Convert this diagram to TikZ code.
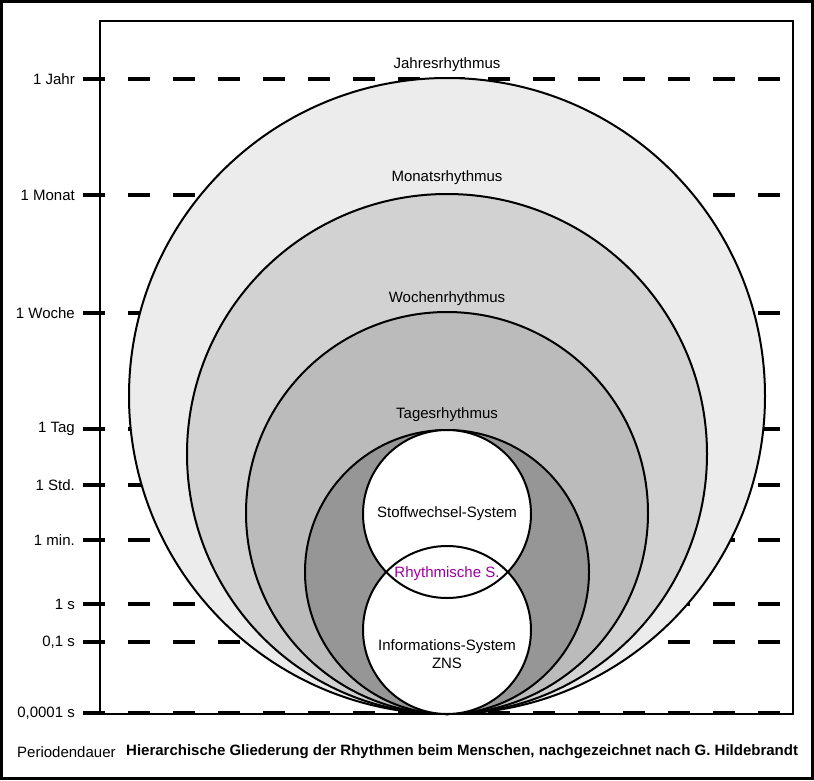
\documentclass[tikz,border=0pt]{standalone}
\usepackage{fontspec}
\setmainfont{Liberation Sans}
\definecolor{cJahr}{RGB}{236,236,236}
\definecolor{cMonat}{RGB}{210,210,210}
\definecolor{cWoche}{RGB}{187,187,187}
\definecolor{cTag}{RGB}{150,150,150}
\definecolor{cRhy}{RGB}{153,0,153}
\begin{document}
\begin{tikzpicture}[x=1pt,y=-1pt,
  lvl/.style={line width=4pt, dash pattern=on 22pt off 23pt},
  ylab/.style={anchor=east, font=\fontsize{15}{17}\selectfont, inner sep=0pt},
  rlab/.style={font=\fontsize{15}{17}\selectfont, inner sep=0pt, align=center},
  ring/.style={circle, draw=black, line width=2pt, inner sep=0pt, outer sep=0pt}]
\useasboundingbox (0,0) rectangle (814,780);
\draw[line width=2.2pt] (1.5,1.5) rectangle (812.5,778.5);
% level lines
\foreach \n/\y/\t in {jahr/79/1 Jahr, monat/195/1 Monat, woche/313/1 Woche, tag/429/1 Tag, std/485/1 Std., min/540/1 min., sek/604/1 s, zsek/642/{0,1 s}, msek/713/{0,0001 s}}{
  \coordinate (\n L) at (83,\y);
  \coordinate (\n R) at (781,\y);
  \node[ylab] (\n T) at (75,\y) {\t};
  \draw[lvl] (\n L) -- (\n R);
}
\draw[line width=2.2pt] (100,21) rectangle (793,714);
% nested circles
\node[ring, fill=cJahr, minimum size=636pt] (jahres) at (447,396) {};
\node[ring, fill=cMonat, minimum size=520pt] (monats) at (447,454) {};
\node[ring, fill=cWoche, minimum size=402pt] (wochen) at (447,513) {};
\node[ring, fill=cTag, minimum size=284pt] (tages) at (447,572) {};
\node[circle, fill=white, inner sep=0pt, minimum size=168pt] (stoffF) at (447,514) {};
\node[circle, fill=white, inner sep=0pt, minimum size=168pt] (infoF) at (447,630) {};
\node[ring, minimum size=168pt] (stoff) at (447,514) {};
\node[ring, minimum size=168pt] (info) at (447,630) {};
% labels
\node[rlab] (ljahr) at (447,65) {Jahresrhythmus};
\node[rlab] (lmonat) at (447,178) {Monatsrhythmus};
\node[rlab] (lwoche) at (447,299) {Wochenrhythmus};
\node[rlab] (ltag) at (447,415) {Tagesrhythmus};
\node[rlab] (lstoff) at (447,514) {Stoffwechsel-System};
\node[rlab, text=cRhy] (lrhy) at (447,574) {Rhythmische S.};
\node[rlab, font=\fontsize{15}{18}\selectfont] (linfo) at (447,654) {Informations-System\\ZNS};
\node[anchor=west, inner sep=0pt, font=\fontsize{15}{17}\selectfont] (per) at (17,752) {Periodendauer};
\node[anchor=west, inner sep=0pt, font=\fontsize{15}{17}\selectfont\bfseries] (cap) at (126,752) {Hierarchische Gliederung der Rhythmen beim Menschen, nachgezeichnet nach G. Hildebrandt};
\end{tikzpicture}
\end{document}
